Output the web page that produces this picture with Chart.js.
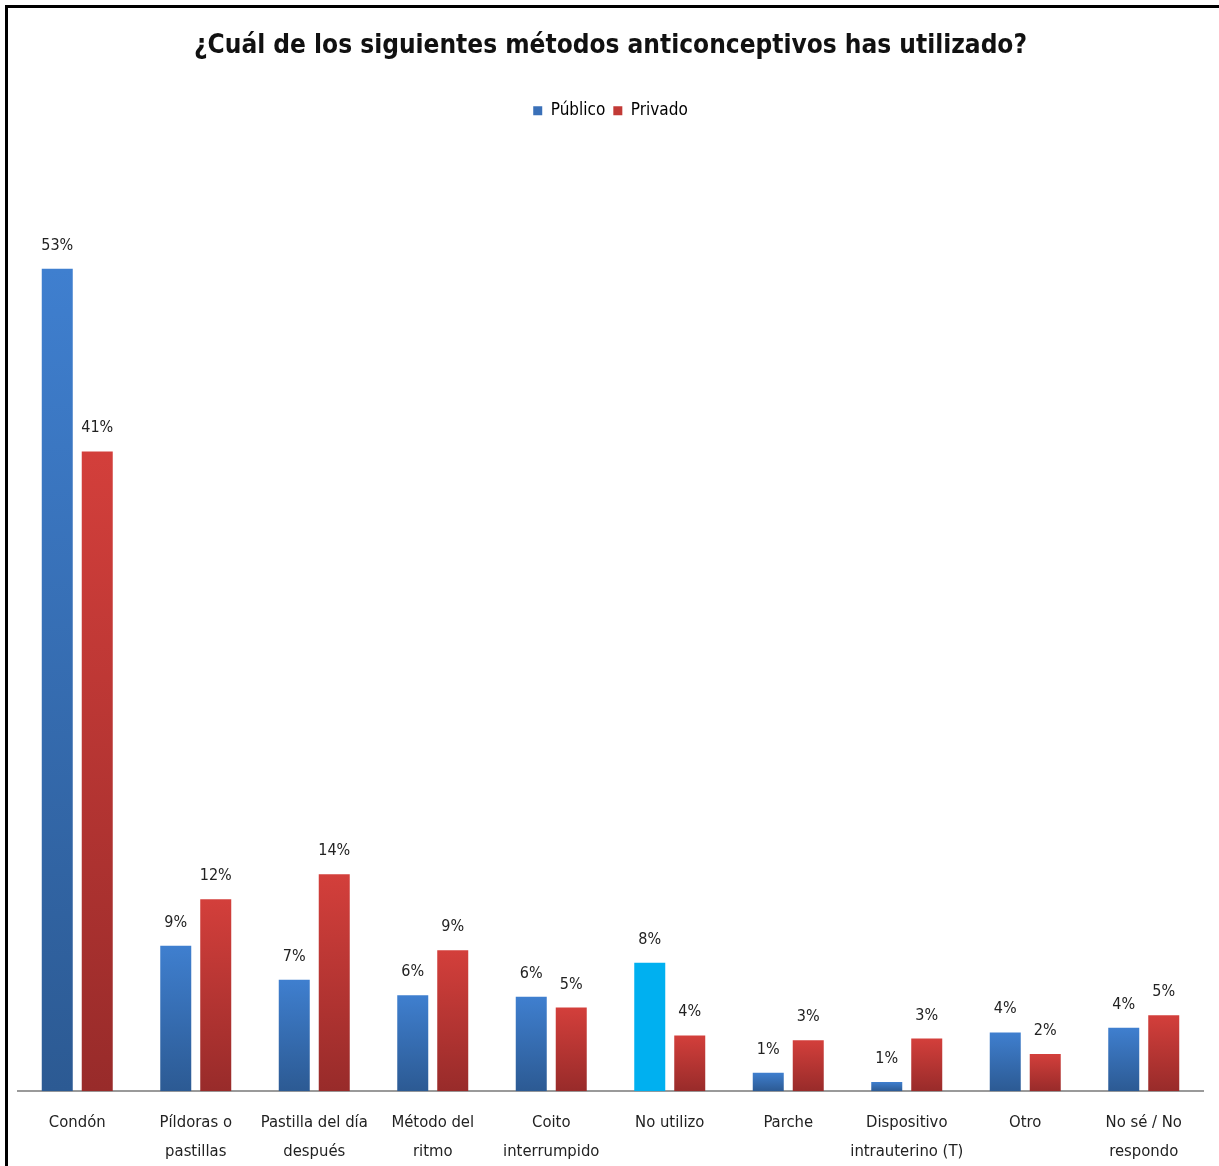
<!DOCTYPE html>
<html lang="es">
<head>
<meta charset="utf-8">
<title>Métodos anticonceptivos</title>
<script src="https://cdn.jsdelivr.net/npm/chart.js@4.4.1/dist/chart.umd.min.js"></script>
<style>
  html, body { margin: 0; padding: 0; background: #fff; }
  #wrap { position: relative; width: 1219px; height: 1166px; }
  #frame {
    position: absolute; left: 5px; top: 5px; right: 0; bottom: 0;
    border-top: 3px solid #000; border-left: 3px solid #000;
    pointer-events: none;
  }
</style>
</head>
<body>
<div id="wrap">
  <canvas id="metodosChart" width="1219" height="1166"></canvas>
  <div id="frame"></div>
</div>
<script>
// Data (percent of respondents)
const categories = [
  ['Condón'],
  ['Píldoras o', 'pastillas'],
  ['Pastilla del día', 'después'],
  ['Método del', 'ritmo'],
  ['Coito', 'interrumpido'],
  ['No utilizo'],
  ['Parche'],
  ['Dispositivo', 'intrauterino (T)'],
  ['Otro'],
  ['No sé / No', 'respondo']
];
const publico = [53.1, 9.4, 7.2, 6.2, 6.1, 8.3, 1.2, 0.6, 3.8, 4.1];
const privado = [41.3, 12.4, 14.0, 9.1, 5.4, 3.6, 3.3, 3.4, 2.4, 4.9];
const seriesNames = ['Público', 'Privado'];

const FONT = "'Liberation Sans Narrow', 'DejaVu Sans Condensed', 'Arial Narrow', sans-serif";
const highlightBar = 5; // "No utilizo" público is drawn in cyan

function barGradient(topColor, bottomColor, highlight) {
  return function(context) {
    if (highlight !== undefined && context.dataIndex === highlight) return '#00b0f0';
    const chart = context.chart;
    if (!chart.chartArea || context.type !== 'data') return topColor;
    const y = chart.scales.y;
    const top = y.getPixelForValue(context.raw);
    const bottom = y.getPixelForValue(0);
    if (!isFinite(top) || bottom - top < 1) return topColor;
    const g = chart.ctx.createLinearGradient(0, top, 0, bottom);
    g.addColorStop(0, topColor);
    g.addColorStop(1, bottomColor);
    return g;
  };
}

const valueLabels = {
  id: 'valueLabels',
  afterDatasetsDraw(chart) {
    const ctx = chart.ctx;
    ctx.save();
    ctx.font = '16px ' + FONT;
    ctx.fillStyle = '#222';
    ctx.textAlign = 'center';
    ctx.textBaseline = 'alphabetic';
    chart.data.datasets.forEach((ds, i) => {
      chart.getDatasetMeta(i).data.forEach((bar, j) => {
        ctx.fillText(Math.round(ds.data[j]) + '%', bar.x, bar.y - 19);
      });
    });
    ctx.restore();
  }
};

const legendColors = ['#3a70b8', '#c23a36'];

Chart.defaults.font.family = FONT;

new Chart(document.getElementById('metodosChart'), {
  type: 'bar',
  data: {
    labels: categories,
    datasets: [{
      label: seriesNames[0],
      data: publico,
      backgroundColor: barGradient('#3f7fcf', '#2c5a93', highlightBar),
      categoryPercentage: 0.675,
      barPercentage: 0.775
    }, {
      label: seriesNames[1],
      data: privado,
      backgroundColor: barGradient('#d33f3b', '#982b2a'),
      categoryPercentage: 0.675,
      barPercentage: 0.775
    }]
  },
  options: {
    responsive: false,
    animation: false,
    layout: { padding: { top: 8, left: 18, right: 16, bottom: -9 } },
    plugins: {
      title: {
        display: true,
        text: '¿Cuál de los siguientes métodos anticonceptivos has utilizado?',
        color: '#111',
        font: { size: 26, weight: 'bold' },
        padding: { top: 23, bottom: 32 }
      },
      legend: {
        position: 'top',
        labels: {
          boxWidth: 9,
          boxHeight: 9,
          padding: 8,
          color: '#222',
          font: { size: 17 },
          generateLabels(chart) {
            return chart.data.datasets.map((ds, i) => ({
              text: ds.label,
              fillStyle: legendColors[i],
              strokeStyle: legendColors[i],
              lineWidth: 0,
              datasetIndex: i,
              hidden: false
            }));
          }
        }
      },
      tooltip: { enabled: false }
    },
    scales: {
      x: {
        grid: { display: false },
        border: { display: true, color: '#9a9a9a', width: 2 },
        ticks: {
          color: '#222',
          font: { size: 16.5, lineHeight: 1.75 },
          padding: 9,
          maxRotation: 0,
          autoSkip: false
        }
      },
      y: { display: false, min: 0, max: 62.1 }
    }
  },
  plugins: [valueLabels]
});
</script>
</body>
</html>
